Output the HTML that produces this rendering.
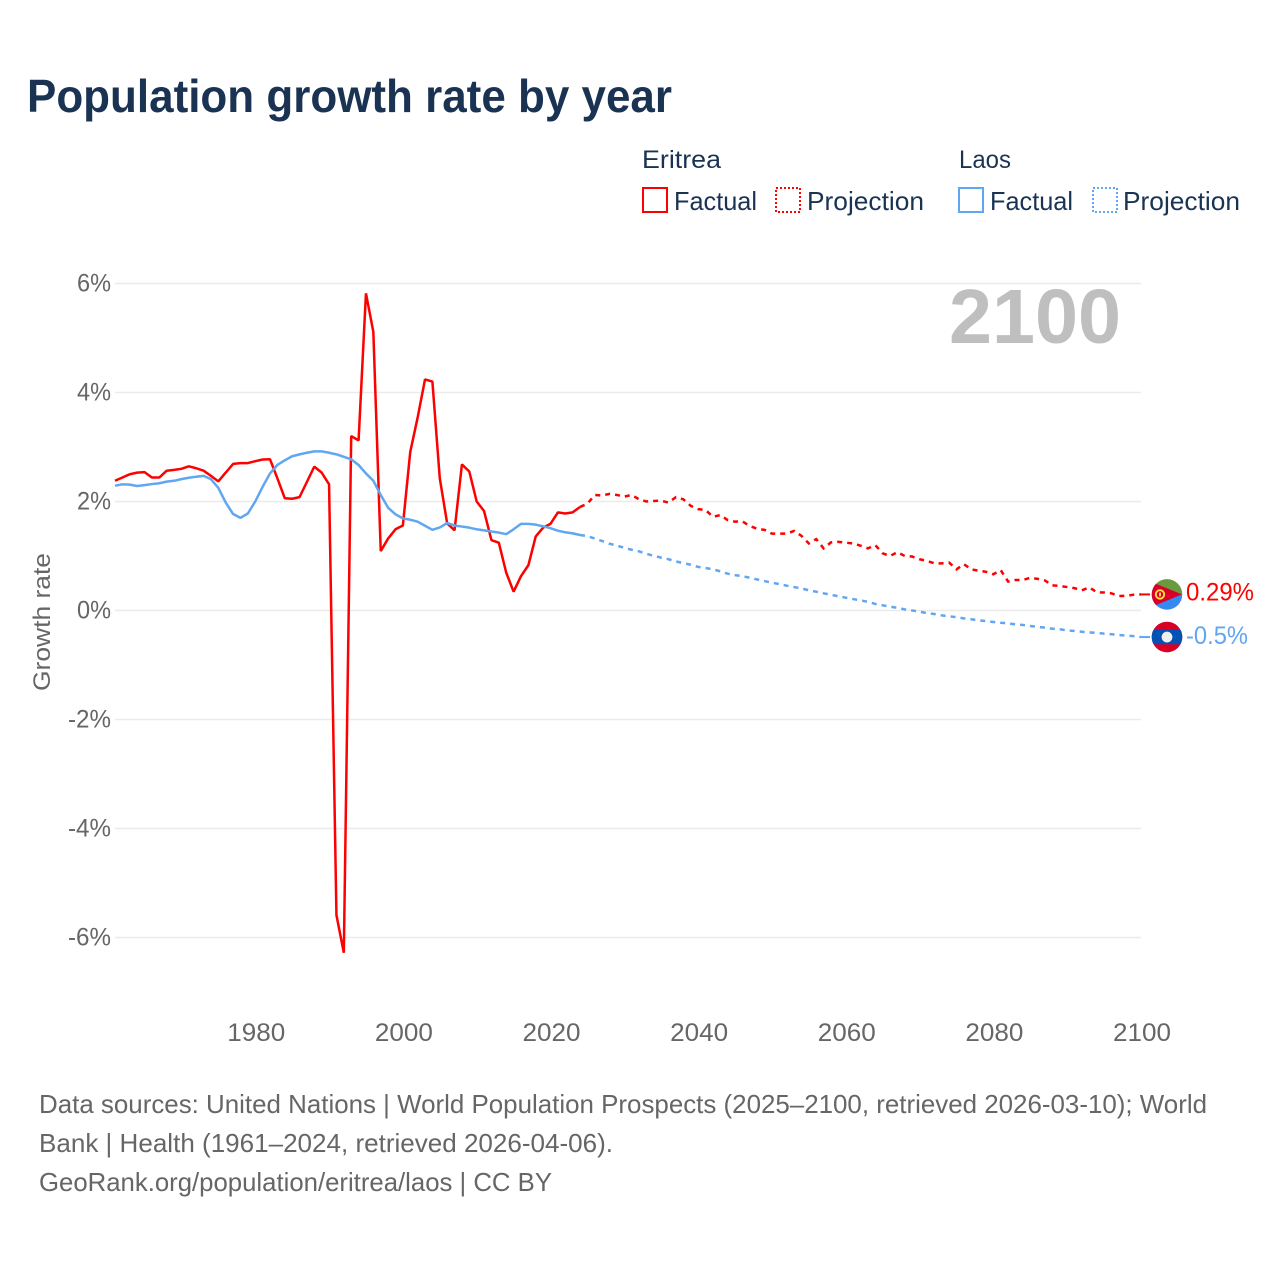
<!DOCTYPE html>
<html lang="en">
<head>
<meta charset="utf-8">
<title>Population growth rate by year</title>
<style>
html,body{margin:0;padding:0;background:#fff;}
svg{display:block;}
text{font-family:"Liberation Sans",sans-serif;}
</style>
</head>
<body>
<svg id="chart" xmlns="http://www.w3.org/2000/svg" width="1280" height="1280" viewBox="0 0 1280 1280">
  <defs>
    <clipPath id="flag-clip-er"><circle cx="0" cy="0" r="15.3"/></clipPath>
    <clipPath id="flag-clip-la"><circle cx="0" cy="0" r="15.3"/></clipPath>
  </defs>
  <rect x="0" y="0" width="1280" height="1280" fill="#ffffff"/>
  <text x="27" y="112" font-size="46" font-weight="700" fill="#1a3353" textLength="645" lengthAdjust="spacingAndGlyphs">Population growth rate by year</text>

  <g>
    <text x="642" y="168" font-size="25" fill="#1a3353" textLength="79" lengthAdjust="spacingAndGlyphs">Eritrea</text>
    <rect x="643" y="188" width="24" height="24" fill="none" stroke="#ff0000" stroke-width="2"/>
    <text x="674" y="210" font-size="26" fill="#1a3353" textLength="83" lengthAdjust="spacingAndGlyphs">Factual</text>
    <rect x="776" y="188" width="24" height="24" fill="none" stroke="#ff0000" stroke-width="2" stroke-dasharray="2 2"/>
    <text x="807" y="210" font-size="26" fill="#1a3353" textLength="117" lengthAdjust="spacingAndGlyphs">Projection</text>

    <text x="959" y="168" font-size="25" fill="#1a3353" textLength="52" lengthAdjust="spacingAndGlyphs">Laos</text>
    <rect x="959" y="188" width="24" height="24" fill="none" stroke="#60a6f0" stroke-width="2"/>
    <text x="990" y="210" font-size="26" fill="#1a3353" textLength="83" lengthAdjust="spacingAndGlyphs">Factual</text>
    <rect x="1093" y="188" width="24" height="24" fill="none" stroke="#60a6f0" stroke-width="2" stroke-dasharray="2 2"/>
    <text x="1123" y="210" font-size="26" fill="#1a3353" textLength="117" lengthAdjust="spacingAndGlyphs">Projection</text>
  </g>

  <g id="grid"></g>
  <g id="y-axis"></g>
  <g id="x-axis"></g>
  <text transform="translate(50,691) rotate(-90)" x="0" y="0" font-size="24" fill="#666666" textLength="138" lengthAdjust="spacingAndGlyphs">Growth rate</text>
  <text x="949" y="343" font-size="77" font-weight="700" fill="#bfbfbf" textLength="172" lengthAdjust="spacingAndGlyphs">2100</text>

  <g id="series"></g>

  <g id="flag-eritrea">
    <g clip-path="url(#flag-clip-er)">
      <rect x="-16" y="-16" width="32" height="16" fill="#6a9a40"/>
      <rect x="-16" y="0" width="32" height="16" fill="#338af3"/>
      <polygon points="-17,-13 15,0 -17,13" fill="#d80027"/>
    </g>
    <circle cx="-7" cy="0" r="4.2" fill="none" stroke="#ffda44" stroke-width="1.9"/>
    <rect x="-8" y="-1.8" width="2" height="3.6" fill="#ffda44"/>
  </g>
  <g id="flag-laos">
    <g clip-path="url(#flag-clip-la)">
      <rect x="-16" y="-16" width="32" height="32" fill="#d80027"/>
      <rect x="-16" y="-7.2" width="32" height="14.4" fill="#0052b4"/>
      <circle cx="0" cy="0" r="5.4" fill="#f0f0f0"/>
    </g>
  </g>
  <text id="end-label-eritrea" x="1186" font-size="25" fill="#ff0000" textLength="68" lengthAdjust="spacingAndGlyphs"></text>
  <text id="end-label-laos" x="1186" font-size="25" fill="#60a6f0" textLength="62" lengthAdjust="spacingAndGlyphs"></text>

  <g font-size="26" fill="#666666">
    <text x="39" y="1113" textLength="1168" lengthAdjust="spacingAndGlyphs">Data sources: United Nations | World Population Prospects (2025–2100, retrieved 2026-03-10); World</text>
    <text x="39" y="1152" textLength="574" lengthAdjust="spacingAndGlyphs">Bank | Health (1961–2024, retrieved 2026-04-06).</text>
    <text x="39" y="1191" textLength="513" lengthAdjust="spacingAndGlyphs">GeoRank.org/population/eritrea/laos | CC BY</text>
  </g>
</svg>
<script>
const firstFactualYear = 1961;
const firstProjectionYear = 2025;
const eritreaFactual = [2.38,2.44,2.50,2.53,2.54,2.44,2.44,2.565,2.58,2.60,2.645,2.61,2.565,2.47,2.37,2.53,2.69,2.705,2.705,2.74,2.77,2.775,2.425,2.06,2.05,2.08,2.36,2.64,2.53,2.315,-5.59,-6.28,3.2,3.12,5.82,5.11,1.09,1.32,1.49,1.56,2.91,3.54,4.24,4.2,2.425,1.6,1.47,2.68,2.55,2.0,1.825,1.29,1.245,0.695,0.345,0.63,0.83,1.36,1.52,1.59,1.80,1.78,1.80,1.90];
const eritreaProjection = [1.96,2.12,2.11,2.14,2.12,2.09,2.12,2.04,2.0,2.01,2.015,1.98,2.08,2.04,1.92,1.86,1.845,1.72,1.75,1.66,1.63,1.635,1.55,1.50,1.48,1.41,1.41,1.41,1.46,1.37,1.23,1.31,1.14,1.25,1.26,1.245,1.23,1.19,1.14,1.20,1.05,1.0,1.07,1.0,0.99,0.94,0.91,0.865,0.865,0.88,0.755,0.85,0.755,0.73,0.71,0.665,0.74,0.53,0.56,0.56,0.60,0.58,0.55,0.46,0.45,0.43,0.41,0.37,0.425,0.335,0.33,0.315,0.265,0.27,0.29,0.295];
const laosFactual = [2.29,2.315,2.31,2.285,2.30,2.32,2.335,2.365,2.38,2.41,2.435,2.455,2.47,2.41,2.25,1.98,1.77,1.70,1.78,2.0,2.27,2.515,2.67,2.755,2.83,2.865,2.895,2.92,2.92,2.895,2.865,2.82,2.775,2.67,2.515,2.38,2.12,1.885,1.765,1.69,1.665,1.63,1.555,1.48,1.525,1.605,1.56,1.54,1.52,1.49,1.47,1.45,1.43,1.40,1.49,1.59,1.59,1.575,1.545,1.51,1.465,1.435,1.415,1.385];
const laosProjection = [1.365,1.32,1.275,1.225,1.19,1.15,1.115,1.085,1.04,1.005,0.97,0.94,0.90,0.87,0.84,0.80,0.78,0.755,0.72,0.675,0.65,0.63,0.60,0.57,0.54,0.51,0.485,0.455,0.43,0.405,0.37,0.345,0.315,0.29,0.26,0.235,0.21,0.185,0.16,0.12,0.095,0.07,0.05,0.02,0.0,-0.02,-0.05,-0.065,-0.09,-0.105,-0.125,-0.145,-0.16,-0.18,-0.195,-0.21,-0.225,-0.235,-0.255,-0.265,-0.285,-0.30,-0.315,-0.335,-0.345,-0.365,-0.375,-0.39,-0.40,-0.41,-0.425,-0.435,-0.45,-0.46,-0.47,-0.487];
const yTickValues = [6,4,2,0,-2,-4,-6];
const yTickLabels = ["6%","4%","2%","0%","-2%","-4%","-6%"];
const xTickValues = [1980,2000,2020,2040,2060,2080,2100];
const xTickLabels = ["1980","2000","2020","2040","2060","2080","2100"];
const endLabelEritrea = "0.29%";
const endLabelLaos = "-0.5%";

const SVG_NS = "http://www.w3.org/2000/svg";
const plotLeft = 115, plotRight = 1141;
const xScale = function (year) { return plotLeft + (year - 1961) * (plotRight - plotLeft) / 139; };
const yScale = function (v) { return 610.5 - v * 54.5; };

function make(tag, parent) {
  const el = document.createElementNS(SVG_NS, tag);
  parent.appendChild(el);
  return el;
}

function buildPath(startYear, values, prefix) {
  const parts = prefix ? [prefix] : [];
  values.forEach(function (v, i) {
    const cmd = (parts.length === 0) ? "M" : "L";
    parts.push(cmd + xScale(startYear + i).toFixed(2) + " " + yScale(v).toFixed(2));
  });
  return parts.join(" ");
}

const gridGroup = document.getElementById("grid");
const yAxisGroup = document.getElementById("y-axis");
yTickValues.forEach(function (v, i) {
  const line = make("line", gridGroup);
  
  
  line.setAttribute("x1", plotLeft);
  line.setAttribute("x2", plotRight);
  line.setAttribute("y1", yScale(v));
  line.setAttribute("y2", yScale(v));
  line.setAttribute("stroke", "#ebebeb");
  line.setAttribute("stroke-width", "1.5");
  const label = make("text", yAxisGroup);
  
  
  label.setAttribute("x", 111);
  label.setAttribute("y", yScale(v) + 8);
  label.setAttribute("text-anchor", "end");
  label.setAttribute("font-size", "25");
  label.setAttribute("fill", "#666666");
  label.setAttribute("textLength", v < 0 ? 43 : 34);
  label.setAttribute("lengthAdjust", "spacingAndGlyphs");
  label.textContent = yTickLabels[i];
});

const xAxisGroup = document.getElementById("x-axis");
xTickValues.forEach(function (year, i) {
  const label = make("text", xAxisGroup);
  
  
  label.setAttribute("x", xScale(year) + 1);
  label.setAttribute("y", 1041);
  label.setAttribute("text-anchor", "middle");
  label.setAttribute("font-size", "25");
  label.setAttribute("fill", "#666666");
  label.setAttribute("textLength", 58);
  label.setAttribute("lengthAdjust", "spacingAndGlyphs");
  label.textContent = xTickLabels[i];
});

const seriesGroup = document.getElementById("series");
const RED = "#ff0000";
const BLUE = "#60a6f0";

function drawSeries(factual, projection, color, key) {
  const lastFactualYear = firstFactualYear + factual.length - 1;
  const lastFactual = factual[factual.length - 1];
  const proj = make("path", seriesGroup);
  
  
  proj.setAttribute("d", buildPath(firstProjectionYear, projection, "M" + xScale(lastFactualYear).toFixed(2) + " " + yScale(lastFactual).toFixed(2)));
  proj.setAttribute("fill", "none");
  proj.setAttribute("stroke", color);
  proj.setAttribute("stroke-width", "2.5");
  proj.setAttribute("stroke-dasharray", "5 5");
  const lastY = yScale(projection[projection.length - 1]);
  const conn = make("line", seriesGroup);
  
  
  conn.setAttribute("x1", 1141);
  conn.setAttribute("x2", 1150);
  conn.setAttribute("y1", lastY);
  conn.setAttribute("y2", lastY);
  conn.setAttribute("stroke", color);
  conn.setAttribute("stroke-width", "2");
  const fact = make("path", seriesGroup);
  
  
  fact.setAttribute("d", buildPath(firstFactualYear, factual, ""));
  fact.setAttribute("fill", "none");
  fact.setAttribute("stroke", color);
  fact.setAttribute("stroke-width", "2.5");
  fact.setAttribute("stroke-linejoin", "bevel");
}

drawSeries(eritreaFactual, eritreaProjection, RED, "eritrea");
drawSeries(laosFactual, laosProjection, BLUE, "laos");

const erEndY = yScale(eritreaProjection[eritreaProjection.length - 1]);
const laEndY = yScale(laosProjection[laosProjection.length - 1]);
document.getElementById("flag-eritrea").setAttribute("transform", "translate(1167," + erEndY + ")");
document.getElementById("flag-laos").setAttribute("transform", "translate(1167," + laEndY + ")");
const erLabel = document.getElementById("end-label-eritrea");
erLabel.setAttribute("y", erEndY + 6);
erLabel.textContent = endLabelEritrea;
const laLabel = document.getElementById("end-label-laos");
laLabel.setAttribute("y", laEndY + 7);
laLabel.textContent = endLabelLaos;
</script>
</body>
</html>
